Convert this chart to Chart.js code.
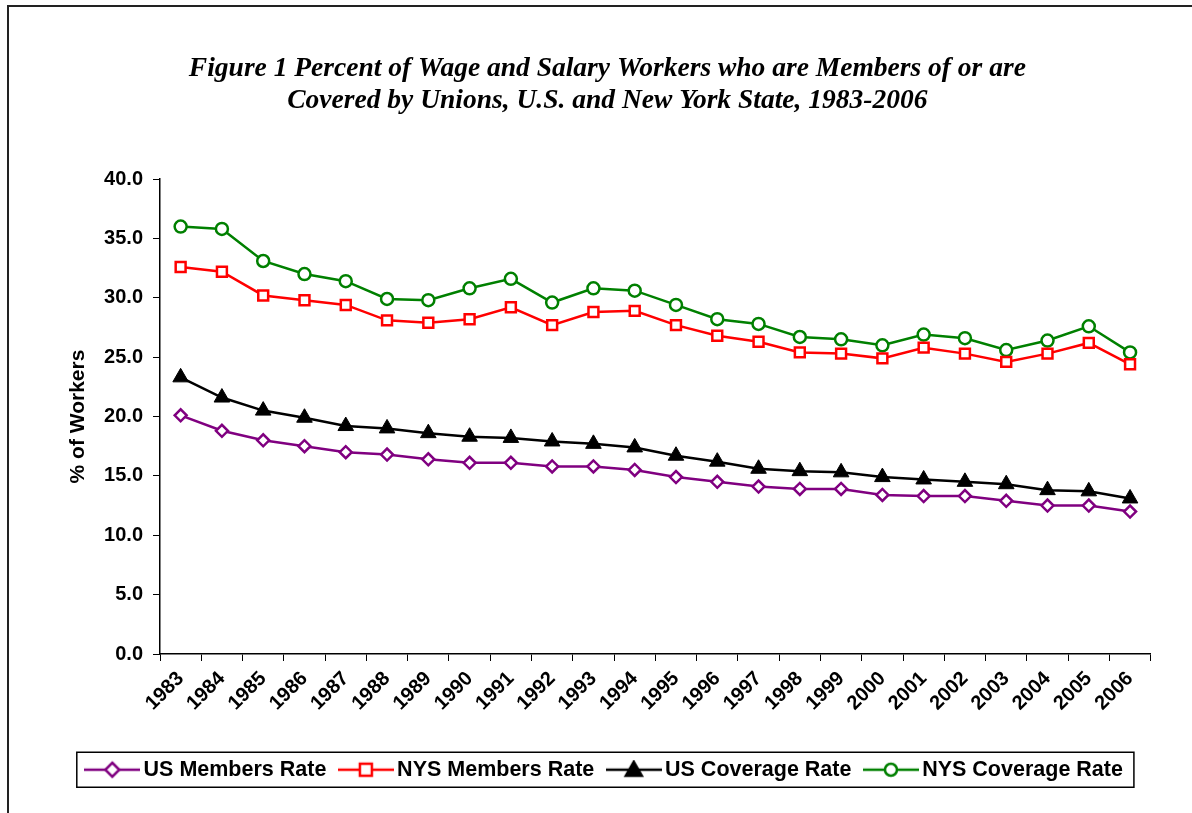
<!DOCTYPE html>
<html>
<head>
<meta charset="utf-8">
<title>Union members and coverage, U.S. and NYS</title>
<script src="https://cdn.jsdelivr.net/npm/chart.js@4.4.0/dist/chart.umd.min.js"></script>
<style>
  html, body { margin: 0; padding: 0; background: #fff; overflow: hidden; }
  #frame { position: absolute; left: 7px; top: 5px; width: 1300px; height: 900px; border-left: 2px solid #222; border-top: 2px solid #222; }
  #wrap { position: absolute; left: 0; top: 0; width: 1192px; height: 813px; }
</style>
</head>
<body>
<div id="frame"></div>
<div id="wrap"><canvas id="chart"></canvas></div>
<script>
"use strict"

const years = ["1983", "1984", "1985", "1986", "1987", "1988", "1989", "1990", "1991", "1992", "1993", "1994",
    "1995", "1996", "1997", "1998", "1999", "2000", "2001", "2002", "2003", "2004", "2005", "2006"];

const usMembers = [20.1, 18.8, 18.0, 17.5, 17.0, 16.8, 16.4, 16.1, 16.1, 15.8, 15.8, 15.5,
    14.9, 14.5, 14.1, 13.9, 13.9, 13.4, 13.3, 13.3, 12.9, 12.5, 12.5, 12.0];
const nysMembers = [32.6, 32.2, 30.2, 29.8, 29.4, 28.1, 27.9, 28.2, 29.2, 27.7, 28.8, 28.9,
    27.7, 26.8, 26.3, 25.4, 25.3, 24.9, 25.8, 25.3, 24.6, 25.3, 26.2, 24.4];
const usCoverage = [23.3, 21.6, 20.5, 19.9, 19.2, 19.0, 18.6, 18.3, 18.2, 17.9, 17.7, 17.4,
    16.7, 16.2, 15.6, 15.4, 15.3, 14.9, 14.7, 14.5, 14.3, 13.8, 13.7, 13.1];
const nysCoverage = [36.0, 35.8, 33.1, 32.0, 31.4, 29.9, 29.8, 30.8, 31.6, 29.6, 30.8, 30.6,
    29.4, 28.2, 27.8, 26.7, 26.5, 26.0, 26.9, 26.6, 25.6, 26.4, 27.6, 25.4];

const seriesNames = ["US Members Rate", "NYS Members Rate", "US Coverage Rate", "NYS Coverage Rate"];
const titleLines = ["Figure 1 Percent of Wage and Salary Workers who are Members of or are",
    "Covered by Unions, U.S. and New York State, 1983-2006"];
const yTitle = "% of Workers";

const sans = "'Liberation Sans', Arial, sans-serif";

// marker look for each series: [colour, point style, radius, fill]
const styles = [
    ["#800080", "rectRot", 6, "#ffffff"],
    ["#ff0000", "rect", 7, "#ffffff"],
    ["#000000", "triangle", 9, "#000000"],
    ["#008000", "circle", 6, "#ffffff"]
];

// small line+marker pictures for the legend
function makeIcon(color, shape, fill) {
    const c = document.createElement("canvas");
    c.width = 56;
    c.height = 20;
    const ctx = c.getContext("2d");
    ctx.strokeStyle = color;
    ctx.lineWidth = 2.5;
    ctx.beginPath();
    ctx.moveTo(0, 10);
    ctx.lineTo(56, 10);
    ctx.stroke();
    ctx.fillStyle = fill;
    ctx.beginPath();
    if (shape === "rectRot") {
        ctx.moveTo(28, 3); ctx.lineTo(35, 10); ctx.lineTo(28, 17); ctx.lineTo(21, 10); ctx.closePath();
    } else if (shape === "rect") {
        ctx.rect(22, 4, 12, 12);
    } else if (shape === "triangle") {
        ctx.moveTo(28, 2); ctx.lineTo(36, 16); ctx.lineTo(20, 16); ctx.closePath();
    } else {
        ctx.arc(28, 10, 6, 0, Math.PI * 2);
    }
    ctx.fill();
    ctx.stroke();
    return c;
}

const legendIcons = styles.map(s => makeIcon(s[0], s[1], s[3]));

function makeDataset(i, values) {
    const s = styles[i];
    return {
        label: seriesNames[i],
        data: values,
        borderColor: s[0],
        backgroundColor: s[3],
        borderWidth: 2.5,
        pointStyle: s[1],
        pointRadius: s[2],
        pointBorderWidth: s[1] === "triangle" ? 1 : 2.5,
        pointBorderColor: s[0],
        pointBackgroundColor: s[3],
        tension: 0
    };
}

const legendBox = {
    id: "legendBox",
    afterDraw(chart) {
        const boxes = chart.legend.legendHitBoxes;
        if (!boxes || !boxes.length) return;
        const first = boxes[0];
        const last = boxes[boxes.length - 1];
        const cy = first.top + first.height / 2;
        const ctx = chart.ctx;
        ctx.save();
        ctx.strokeStyle = "#000";
        ctx.lineWidth = 1.5;
        ctx.strokeRect(first.left - 15, cy - 17.5, last.left + last.width - first.left + 26, 35);
        ctx.restore();
    }
};

const config = {
    type: "line",
    data: {
        labels: years,
        datasets: [
            makeDataset(0, usMembers),
            makeDataset(1, nysMembers),
            makeDataset(2, usCoverage),
            makeDataset(3, nysCoverage)
        ]
    },
    options: {
        responsive: true,
        maintainAspectRatio: false,
        animation: false,
        layout: { padding: { left: 64, right: 41.3, top: 0, bottom: 22.5 } },
        scales: {
            x: {
                type: "category",
                offset: true,
                grid: { offset: true, drawOnChartArea: false, color: "#000", tickLength: 7 },
                border: { color: "#000", width: 1.5 },
                ticks: {
                    autoSkip: false, minRotation: 45, maxRotation: 45, padding: 6,
                    color: "#000", font: { family: sans, size: 20, weight: "bold" }
                },
                afterFit(scale) { scale.height = 86; }
            },
            y: {
                min: 0,
                max: 40,
                grid: { drawOnChartArea: false, color: "#000", tickLength: 7 },
                border: { color: "#000", width: 1.5 },
                ticks: {
                    stepSize: 5, padding: 10, color: "#000",
                    font: { family: sans, size: 20, weight: "bold" },
                    callback: v => v.toFixed(1)
                },
                title: {
                    display: true, text: yTitle, color: "#000",
                    font: { family: sans, size: 21, weight: "bold" },
                    padding: { top: 2, bottom: 0 }
                },
                afterFit(scale) { scale.width = 96; }
            }
        },
        plugins: {
            title: {
                display: true,
                text: titleLines,
                color: "#000",
                font: { family: "'Liberation Serif', 'Times New Roman', serif", size: 27.5, weight: "bold", style: "italic", lineHeight: 1.165 },
                padding: { top: 53, bottom: 62 }
            },
            legend: {
                position: "bottom",
                labels: {
                    usePointStyle: true,
                    pointStyleWidth: 41,
                    padding: 19,
                    color: "#000",
                    font: { family: sans, size: 21.5, weight: "bold" },
                    generateLabels(chart) {
                        return chart.data.datasets.map((ds, i) => ({
                            text: ds.label,
                            pointStyle: legendIcons[i],
                            fontColor: "#000",
                            datasetIndex: i,
                            hidden: false,
                            lineWidth: 0
                        }));
                    }
                }
            },
            tooltip: { enabled: false }
        }
    },
    plugins: [legendBox]
};

const unionChart = new Chart(document.getElementById("chart"), config);
</script>
</body>
</html>
